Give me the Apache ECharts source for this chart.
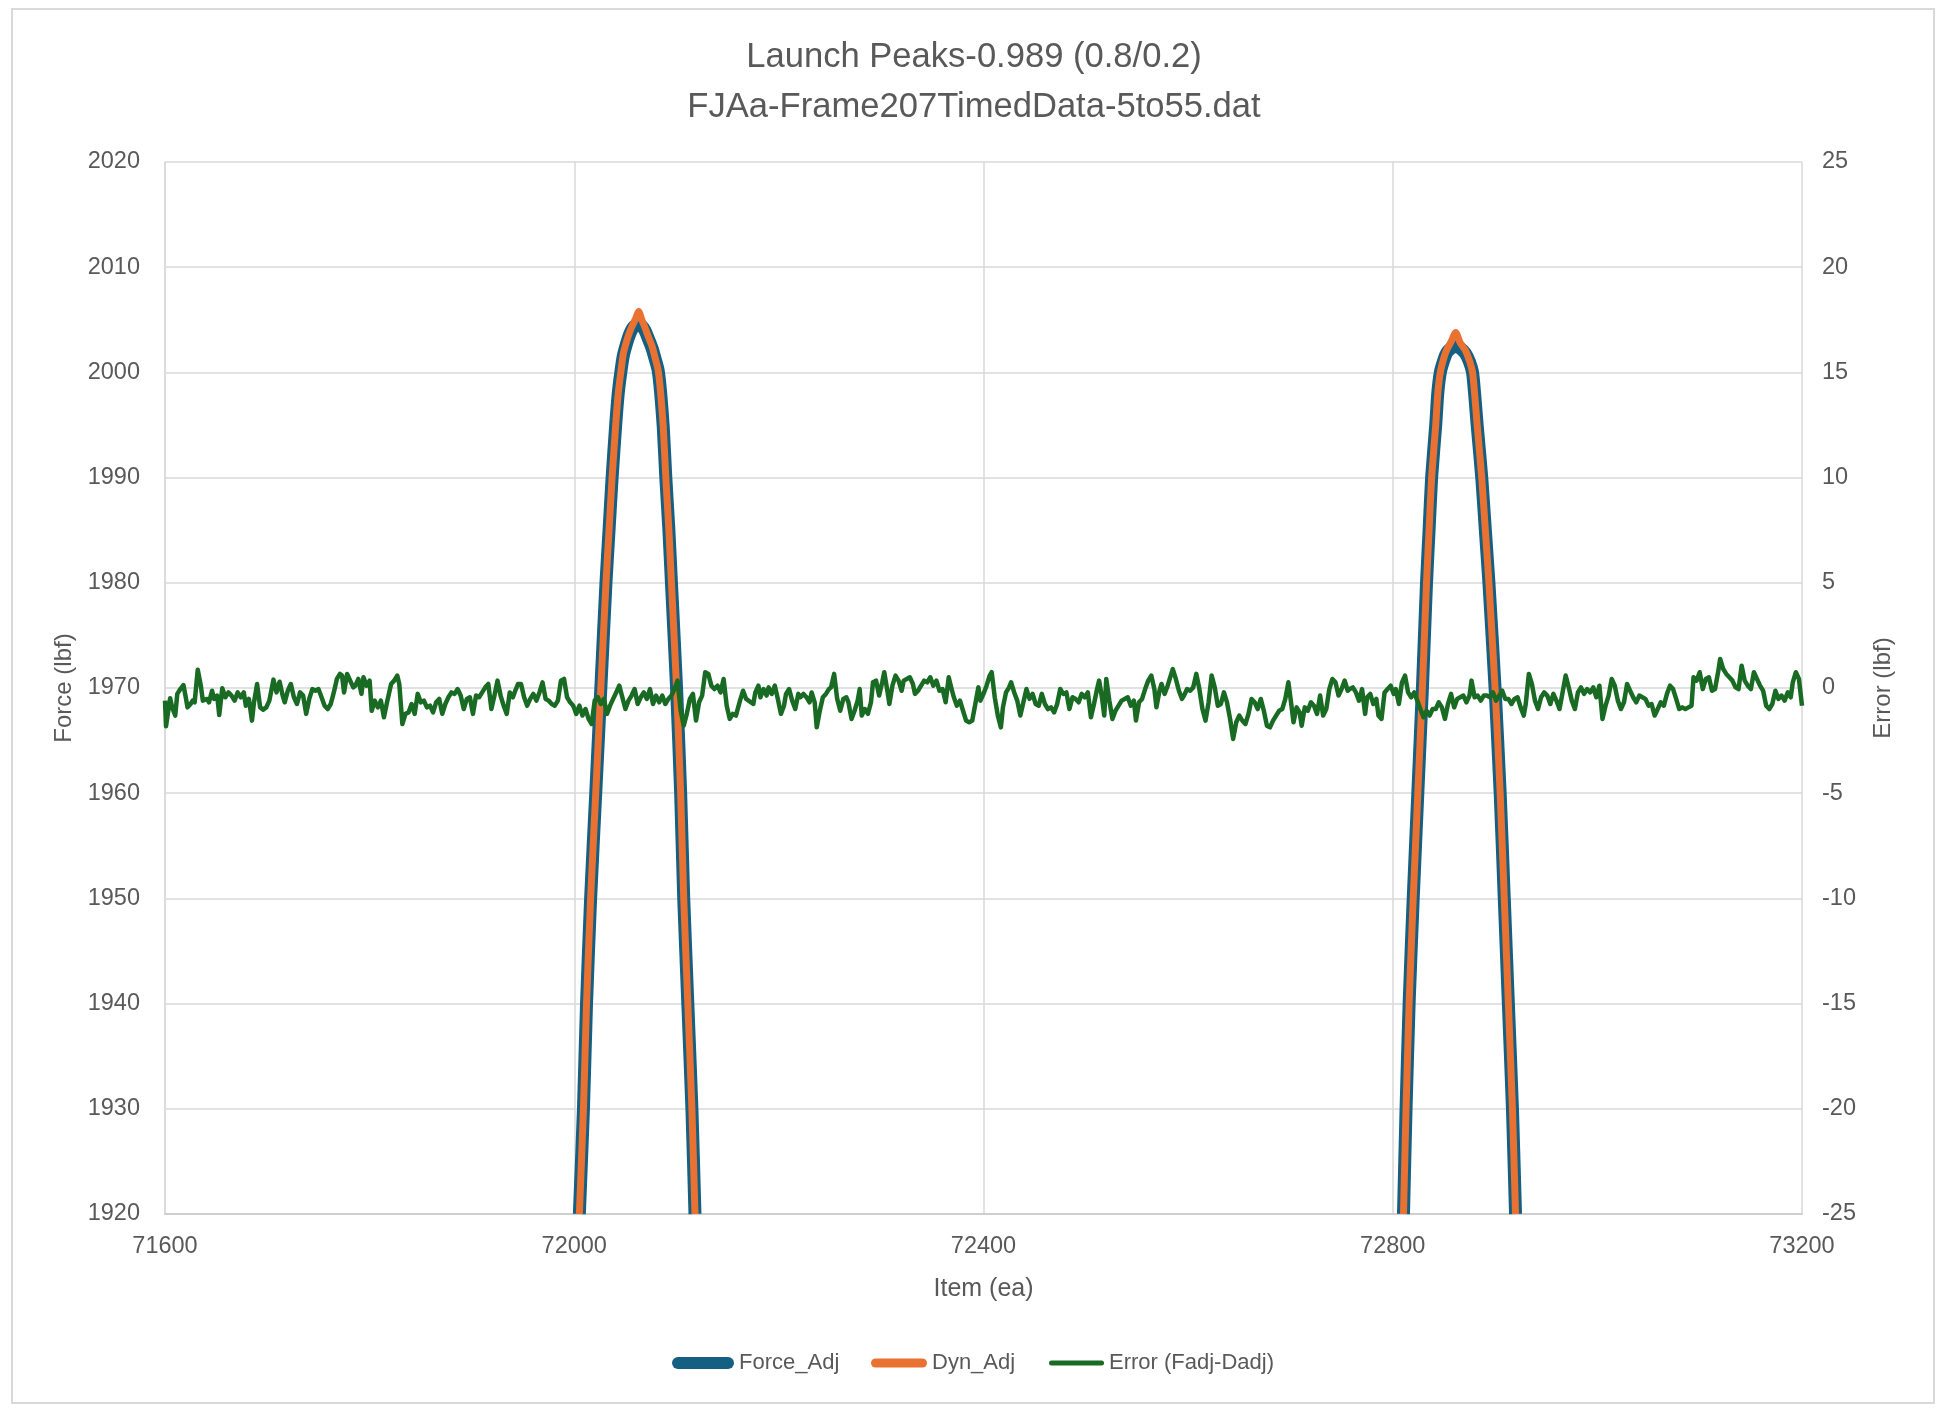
<!DOCTYPE html>
<html>
<head>
<meta charset="utf-8">
<script src="https://cdn.jsdelivr.net/npm/echarts@6/dist/echarts.min.js"></script>
<style>
html,body{margin:0;padding:0;background:#fff;}
#chart{width:1948px;height:1416px;}
</style>
</head>
<body>
<div id="chart"></div>
<script>
// ---- Data ----
const titleLines = ['Launch Peaks-0.989 (0.8/0.2)', 'FJAa-Frame207TimedData-5to55.dat'];
const seriesNames = ['Force_Adj', 'Dyn_Adj', 'Error (Fadj-Dadj)'];

// Force_Adj, peak 1 and peak 2 (item, lbf) – only the part inside the plot
const forcePeak1 = [[72005,1920],[72009,1930],[72012,1940],[72016,1950],[72021,1960],[72026,1970],[72031,1980],[72034,1985],[72037,1990],[72040.5,1995],[72043,1998],[72045.5,2000],[72048,2001.6],[72051,2002.7],[72054,2003.6],[72057,2004.2],[72060,2004.5],[72063,2004.6],[72066,2004.4],[72069,2004.0],[72072,2003.3],[72076,2002.3],[72079,2001.3],[72082,2000.2],[72084.5,1998],[72087,1994.8],[72089.5,1990],[72092.5,1985],[72095,1980],[72100,1970],[72104,1960],[72107,1950],[72111,1940],[72115,1930],[72118,1920]];
const forcePeak2 = [[72810.5,1920],[72813,1930],[72816,1940],[72820,1950],[72824.5,1960],[72829,1970],[72833,1980],[72835.5,1985],[72838,1990],[72842,1995],[72844,1998],[72846.5,2000],[72850,2001.2],[72853,2001.9],[72857,2002.3],[72861.5,2002.5],[72866,2002.3],[72871,2001.8],[72875,2001.0],[72878,2000],[72880,1998],[72882.5,1995],[72887,1990],[72890.5,1985],[72894,1980],[72900,1970],[72905,1960],[72909,1950],[72913,1940],[72917,1930],[72920,1920]];
// Dyn_Adj
const dynPeak1 = [[72005,1920],[72009,1930],[72012,1940],[72016,1950],[72021,1960],[72026,1970],[72031,1980],[72034,1985],[72037,1990],[72040.5,1995],[72043,1998],[72045.5,2000],[72048,2001.8],[72051,2002.9],[72054,2003.8],[72057,2004.5],[72060,2005.1],[72063,2005.8],[72066,2005.0],[72069,2004.3],[72072,2003.5],[72076,2002.5],[72079,2001.4],[72082,2000.2],[72084.5,1998],[72087,1994.8],[72089.5,1990],[72092.5,1985],[72095,1980],[72100,1970],[72104,1960],[72107,1950],[72111,1940],[72115,1930],[72118,1920]];
const dynPeak2 = [[72810.5,1920],[72813,1930],[72816,1940],[72820,1950],[72824.5,1960],[72829,1970],[72833,1980],[72835.5,1985],[72838,1990],[72842,1995],[72844,1998],[72846.5,2000],[72850,2001.4],[72853,2002.2],[72857,2002.9],[72861.5,2003.8],[72866,2002.8],[72871,2002.1],[72875,2001.1],[72878,2000],[72880,1998],[72882.5,1995],[72887,1990],[72890.5,1985],[72894,1980],[72900,1970],[72905,1960],[72909,1950],[72913,1940],[72917,1930],[72920,1920]];

// Error (Fadj-Dadj): item positions and values (lbf)
const errorItem = [71600,71601,71605,71607,71610,71612,71615,71618,71620,71622,71625,71627,71629,71632,71635,71637,71641,71643,71646,71648,71651,71653,71656,71659,71662,71665,71668,71671,71674,71677,71679,71682,71685,71687,71690,71693,71696,71699,71702,71706,71709,71712,71715,71717,71720,71723,71726,71729,71732,71735,71738,71741,71744,71747,71750,71753,71756,71759,71762,71765,71768,71771,71773,71775,71778,71781,71784,71786,71789,71792,71794,71797,71800,71802,71805,71808,71811,71814,71817,71821,71824,71827,71829,71832,71835,71838,71841,71844,71847,71850,71853,71856,71859,71862,71865,71868,71871,71874,71877,71880,71883,71886,71889,71892,71895,71898,71901,71904,71907,71910,71913,71916,71919,71922,71925,71928,71931,71934,71937,71940,71943,71945,71948,71951,71954,71957,71960,71963,71966,71969,71972,71975,71978,71981,71984,71987,71990,71993,71996,71999,72002,72005,72008,72011,72014,72017,72020,72023,72026,72029,72032,72035,72038,72041,72044,72047,72050,72053,72056,72059,72062,72065,72068,72071,72074,72077,72080,72083,72086,72089,72092,72095,72098,72101,72104,72107,72110,72113,72116,72119,72122,72125,72128,72131,72134,72137,72140,72143,72146,72149,72152,72155,72158,72162,72165,72168,
72175,72177,72180,72182,72185,72188,72190,72193,72196,72199,72202,72205,72207,72210,72213,72216,72219,72221,72224,72227,72230,72232,72235,72237,72240,72243,72246,72249,72251,72254,72257,72260,72263,72266,72268,72271,72274,72277,72279,72281,72284,72287,72290,72292,72295,72298,72301,72303,72306,72308,72311,72314,72317,72320,72322,72325,72328,72331,72333,72336,72339,72342,72345,72348,72351,72354,72357,72360,72363,72366,72368,72371,72374,72377,72380,72383,72386,72389,72392,72395,72397,72400,72403,72406,72408,72411,72414,72417,72419,72422,72425,72427,72430,72433,72436,72439,72442,72445,72448,72451,72454,72457,72460,72463,72466,72469,72472,72475,72478,72481,72484,72487,72490,72493,72496,72499,72502,72505,72508,72511,72513,72516,72518,72520,72523,72526,72529,72532,72535,72538,72541,72544,72547,72549,72552,72555,72558,72561,72564,72567,72569,72572,72574,72577,72580,72583,72585,72588,72591,72594,72596,72599,72602,72605,72608,72611,72614,72617,72620,72623,72626,72629,72632,72635,72638,72641,72644,72647,72650,72653,72656,72659,72662,72665,72668,72671,72674,72677,72680,72683,72686,72689,72692,72695,72698,72701,72703,72706,72709,72711,72714,72717,72720,72723,72726,72729,72732,72735,72738,72741,72744,72747,72750,72753,72756,
72758,72761,72764,72767,72770,72773,72775,72778,72781,72784,72786,72789,72792,72795,72798,72801,72803,72806,72809,72812,72815,72818,72821,72824,72827,72830,72833,72836,72839,72842,72845,72848,72851,72854,72857,72860,72863,72866,72869,72872,72875,72877,72880,72883,72886,72889,72892,72895,72898,72901,72904,72907,72910,72913,72916,72919,72922,72925,72928,72930,72933,72936,72939,72942,72945,72948,72951,72954,72957,72960,72963,72966,72969,72972,72975,72978,72981,72984,72987,72990,72993,72996,72999,73002,73005,73008,73011,73014,73017,73020,73023,73026,73029,73032,73035,73038,73041,73044,73047,73050,73053,73056,73059,73062,73065,73068,73071,73074,73077,73080,73083,73086,73089,73092,73094,73097,73100,73103,73106,73109,73112,73115,73118,73120,73123,73126,73129,73132,73135,73138,73141,73144,73147,73150,73153,73156,73159,73162,73165,73168,73171,73174,73177,73180,73183,73186,73189,73191,73194,73197,73200];
const errorValue = [-0.60,-1.82,-0.49,-0.92,-1.31,-0.28,-0.05,0.14,-0.36,-0.92,-0.76,-0.60,-0.68,0.87,0.11,-0.60,-0.52,-0.68,-0.13,-0.52,-0.36,-1.28,-0.01,-0.44,-0.21,-0.36,-0.60,-0.21,-0.44,-0.21,-0.84,-0.52,-1.55,-0.68,0.19,-0.92,-1.03,-0.92,-0.60,0.40,-0.21,0.30,-0.36,-0.68,-0.13,0.19,-0.44,-0.76,-0.21,-0.36,-1.23,-0.52,-0.05,-0.13,-0.05,-0.44,-0.84,-1.00,-0.76,-0.21,0.43,0.67,0.59,-0.21,0.67,0.35,0.03,0.11,0.43,-0.28,0.51,0.11,0.35,-1.08,-0.60,-0.92,-0.60,-1.39,-0.68,0.19,0.35,0.59,0.19,-1.71,-1.23,-1.16,-0.76,-1.23,-0.28,-0.68,-0.60,-0.92,-0.84,-1.16,-0.68,-0.52,-1.23,-0.76,-0.44,-0.21,-0.28,-0.05,-0.36,-1.00,-0.52,-0.44,-1.23,-0.36,-0.44,-0.21,0.03,0.19,-1.00,-0.36,0.35,-0.36,-0.84,-1.23,-0.21,-0.44,-0.05,0.19,0.19,-0.44,-0.84,-0.52,-0.28,-0.60,-0.21,0.27,-0.52,-0.60,-0.76,-0.84,-0.60,0.35,0.43,-0.44,-0.68,-0.84,-1.23,-0.84,-1.31,-1.00,-1.47,-1.71,-0.60,-0.44,-0.76,-0.52,-1.23,-0.84,-0.52,-0.21,0.11,-0.44,-1.00,-0.60,-0.36,-0.05,-0.76,-0.44,-0.21,-0.52,-0.05,-0.76,-0.36,-0.68,-0.36,-0.76,-0.52,-0.36,-0.05,0.35,-1.08,-1.79,-1.23,-0.52,-0.28,-1.55,-0.68,-0.36,0.75,0.67,0.11,-0.05,0.11,-0.21,0.43,-0.84,-1.47,-1.23,-1.31,-0.60,-0.13,-0.52,
-0.76,-0.21,0.11,-0.44,-0.05,-0.36,0.03,-0.28,0.11,-0.52,-1.23,-0.84,-0.28,-0.05,-0.60,-1.00,-0.28,-0.44,-0.28,-0.44,-0.68,-0.21,-0.68,-1.87,-1.08,-0.44,-0.28,-0.05,0.03,0.67,-0.52,-1.08,-0.52,-0.44,-0.68,-1.47,-1.08,-0.60,-0.05,-1.31,-1.00,-1.23,-0.68,0.27,0.35,-0.36,0.27,0.75,-0.13,-0.76,0.11,0.59,0.35,-0.13,0.35,0.43,0.51,0.19,-0.28,-0.13,0.11,0.35,0.27,0.51,0.11,0.35,-0.13,-0.05,-0.68,0.51,0.11,-0.44,-0.84,-0.60,-1.08,-1.55,-1.63,-1.55,-0.76,0.03,-0.60,-0.28,0.11,0.59,0.75,-0.44,-1.31,-1.87,-0.92,-0.21,0.03,0.27,-0.21,-0.60,-1.31,-0.68,-0.05,-0.52,-0.28,-0.76,-0.84,-0.28,-0.76,-1.00,-0.92,-1.16,-0.76,-0.05,-0.28,-0.21,-1.00,-0.44,-0.52,-0.68,-0.28,-0.44,-0.21,-1.39,-0.76,-0.05,0.35,-0.52,-1.31,0.43,-0.60,-1.47,-1.08,-0.84,-0.60,-0.52,-0.44,-0.84,-0.60,-1.55,-0.68,-0.52,-0.05,0.35,0.59,-0.05,-0.92,-0.13,0.19,-0.28,0.11,0.59,0.90,0.43,-0.13,-0.52,-0.36,-0.05,-0.13,0.03,0.67,-0.05,-1.00,-1.55,-0.68,0.59,0.03,-0.84,-0.76,-0.21,-0.68,-1.47,-2.42,-1.63,-1.31,-1.55,-1.71,-1.23,-0.52,-0.68,-1.00,-0.52,-1.08,-1.79,-1.87,-1.55,-1.31,-1.08,-1.00,-0.52,0.27,-0.84,-1.63,-0.92,-1.16,-1.79,-0.92,-1.08,-0.68,-0.84,-1.23,-0.36,-1.31,-1.00,-0.05,0.43,0.27,-0.36,-0.05,0.35,-0.13,
-0.05,0.03,-0.21,-0.60,-0.05,-1.23,-0.44,-0.28,-0.76,-0.52,-1.31,-1.47,-0.21,-0.05,0.11,-0.28,-0.05,-0.76,0.27,0.59,-0.21,-0.44,-0.21,-0.60,-1.00,-1.39,-1.08,-1.31,-1.00,-1.00,-0.68,-0.92,-1.47,-0.76,-0.28,-0.92,-0.52,-0.44,-0.36,-0.68,-0.36,0.35,-0.44,-0.36,-0.60,-0.36,-0.36,-0.44,-0.21,-0.60,-0.36,-0.13,-0.52,-0.52,-0.76,-0.52,-0.44,-0.92,-1.31,-0.76,0.67,0.19,-0.60,-1.00,-0.44,-0.21,-0.36,-0.76,-0.28,-0.60,-1.00,-0.21,0.59,0.03,-0.60,-1.00,-0.21,0.03,-0.28,-0.05,-0.21,0.03,-0.44,0.11,-1.47,-0.84,-0.36,0.43,0.11,-0.60,-1.00,-0.68,0.19,-0.13,-0.44,-0.68,-0.36,-0.44,-0.52,-0.84,-0.76,-1.31,-1.00,-0.68,-0.84,-0.28,0.11,-0.05,-0.52,-1.00,-0.92,-1.00,-0.92,-0.84,0.51,0.35,0.75,-0.05,0.43,0.51,-0.13,-0.05,0.75,1.38,0.90,0.67,0.51,0.35,0.03,-0.05,1.06,0.35,0.11,-0.05,0.75,0.43,0.11,-0.13,-0.84,-1.00,-0.76,-0.13,-0.52,-0.36,-0.60,-0.21,-0.44,0.27,0.75,0.43,-0.84];

// Axis settings
const xTicks = {min: 71600, max: 73200, interval: 400};
const forceTicks = {min: 1920, max: 2020, interval: 10};
const errorTicks = {min: -25, max: 25, interval: 5};

const errorData = errorItem.map((x, i) => [x, errorValue[i]]);

const COLORS = {force: '#156082', dyn: '#E97132', err: '#196B24'};
const TEXT = '#595959';
const FONT = 'Liberation Sans';
const plain = v => String(v);

const chart = echarts.init(document.getElementById('chart'), null, {renderer: 'canvas'});

function pill(w, h) {
  const r = h / 2;
  return 'path://M' + r + ',0H' + (w - r) + 'A' + r + ',' + r + ',0,0,1,' + (w - r) + ',' + h + 'H' + r + 'A' + r + ',' + r + ',0,0,1,' + r + ',0Z';
}
const legendText = {fontFamily: FONT, fontSize: 22, color: TEXT};

const option = {
  animation: false,
  backgroundColor: '#ffffff',
  textStyle: {fontFamily: FONT, color: TEXT},
  title: {
    text: titleLines.join('\n'),
    left: 'center',
    top: 32,
    padding: 0,
    textStyle: {fontFamily: FONT, fontSize: 34.6, fontWeight: 'normal', color: TEXT, lineHeight: 50}
  },
  graphic: [{
    type: 'rect', z: -10, silent: true,
    shape: {x: 12, y: 9, width: 1922, height: 1394},
    style: {fill: 'none', stroke: '#d9d9d9', lineWidth: 2}
  }],
  legend: [
    {data: [seriesNames[0]], left: 672, top: 1352, padding: 0, itemWidth: 62, itemHeight: 12, icon: pill(62, 12),
     textStyle: legendText, selectedMode: false},
    {data: [seriesNames[1]], left: 871, top: 1352, padding: 0, itemWidth: 56, itemHeight: 9, icon: pill(56, 9),
     textStyle: legendText, selectedMode: false},
    {data: [seriesNames[2]], left: 1049, top: 1352, padding: 0, itemWidth: 55, itemHeight: 5, icon: pill(55, 5),
     textStyle: legendText, selectedMode: false}
  ],
  grid: {left: 165, right: 146, top: 162, bottom: 202, containLabel: false},
  xAxis: {
    type: 'value', min: xTicks.min, max: xTicks.max, interval: xTicks.interval,
    name: 'Item (ea)', nameLocation: 'middle', nameGap: 62.5,
    nameTextStyle: {fontFamily: FONT, fontSize: 25, color: TEXT},
    axisLine: {show: true, onZero: false, lineStyle: {color: '#cfcfcf', width: 2}},
    axisTick: {show: false},
    axisLabel: {fontFamily: FONT, fontSize: 23.5, color: TEXT, margin: 21, formatter: plain},
    splitLine: {show: true, lineStyle: {color: '#d9d9d9', width: 1.5}}
  },
  yAxis: [{
    type: 'value', position: 'left', min: forceTicks.min, max: forceTicks.max, interval: forceTicks.interval,
    name: 'Force (lbf)', nameLocation: 'middle', nameGap: 77,
    nameTextStyle: {fontFamily: FONT, fontSize: 24, color: TEXT},
    axisLine: {show: true, lineStyle: {color: '#d9d9d9', width: 1.5}},
    axisTick: {show: false},
    axisLabel: {fontFamily: FONT, fontSize: 23.5, color: TEXT, margin: 25, formatter: plain},
    splitLine: {show: true, lineStyle: {color: '#d9d9d9', width: 1.5}}
  }, {
    type: 'value', position: 'right', min: errorTicks.min, max: errorTicks.max, interval: errorTicks.interval,
    name: 'Error (lbf)', nameLocation: 'middle', nameGap: 69,
    nameTextStyle: {fontFamily: FONT, fontSize: 24, color: TEXT},
    axisLine: {show: false},
    axisTick: {show: false},
    axisLabel: {fontFamily: FONT, fontSize: 23.5, color: TEXT, margin: 20, formatter: plain},
    splitLine: {show: false}
  }],
  series: [
    {name: seriesNames[0], type: 'line', data: forcePeak1, yAxisIndex: 0, symbol: 'none', color: COLORS.force, smooth: 0.2,
     lineStyle: {color: COLORS.force, width: 13, join: 'round'}, itemStyle: {color: COLORS.force}, z: 2},
    {name: seriesNames[0], type: 'line', data: forcePeak2, yAxisIndex: 0, symbol: 'none', color: COLORS.force, smooth: 0.2,
     lineStyle: {color: COLORS.force, width: 13, join: 'round'}, itemStyle: {color: COLORS.force}, z: 2},
    {name: seriesNames[1], type: 'line', data: dynPeak1, yAxisIndex: 0, symbol: 'none', color: COLORS.dyn, smooth: 0.2,
     lineStyle: {color: COLORS.dyn, width: 7, join: 'round'}, itemStyle: {color: COLORS.dyn}, z: 3},
    {name: seriesNames[1], type: 'line', data: dynPeak2, yAxisIndex: 0, symbol: 'none', color: COLORS.dyn, smooth: 0.2,
     lineStyle: {color: COLORS.dyn, width: 7, join: 'round'}, itemStyle: {color: COLORS.dyn}, z: 3},
    {name: seriesNames[2], type: 'line', data: errorData, yAxisIndex: 1, symbol: 'none', color: COLORS.err,
     lineStyle: {color: COLORS.err, width: 4.5, join: 'round'}, itemStyle: {color: COLORS.err}, z: 4}
  ]
};
chart.setOption(option);
</script>
</body>
</html>
